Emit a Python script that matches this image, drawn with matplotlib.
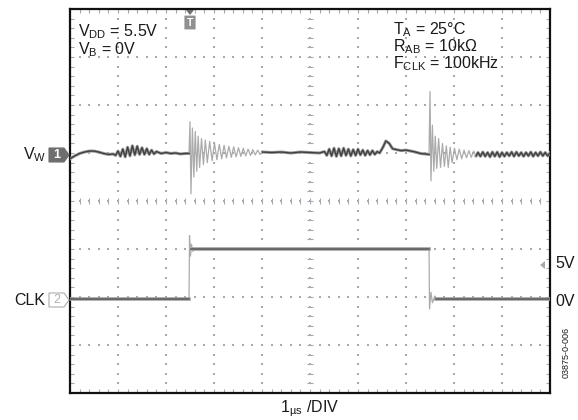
import matplotlib.pyplot as plt
from matplotlib.patches import Polygon, FancyBboxPatch
import numpy as np

plt.rcParams['font.family'] = ['Liberation Sans', 'DejaVu Sans']
plt.rcParams['mathtext.fontset'] = 'custom'
plt.rcParams['mathtext.rm'] = 'Liberation Sans'

# scope traces, x in divisions (1us/div), y in divisions
vw1_t = [0.0, 0.1, 0.2, 0.3, 0.4, 0.5, 0.6, 0.7, 0.8, 0.9,
         0.95, 1.0, 1.05, 1.1, 1.15, 1.2, 1.25, 1.3, 1.35, 1.4, 1.45, 1.5, 1.55, 1.6, 1.65, 1.7, 1.75, 1.8,
         1.9, 2.0, 2.1, 2.2, 2.3, 2.4, 2.48]
vw1_v = [0.88, 0.94, 0.99, 1.02, 1.04, 1.04, 1.02, 0.99, 0.97, 0.98,
         0.95, 1.04, 0.93, 1.08, 0.92, 1.12, 0.94, 1.15, 0.96, 1.14, 0.97, 1.11, 0.97, 1.09, 0.97, 1.06, 0.98, 1.03,
         0.99, 1.01, 0.99, 1.00, 0.98, 0.99, 0.99]

ring1_t = [2.48, 2.50, 2.52, 2.55, 2.58, 2.61, 2.64, 2.67, 2.70, 2.74, 2.78, 2.82, 2.86, 2.91, 2.96,
           3.01, 3.06, 3.11, 3.16, 3.21, 3.26, 3.31, 3.36, 3.41, 3.46, 3.51, 3.56, 3.61, 3.66, 3.71,
           3.76, 3.81, 3.86, 3.91, 3.96, 4.01]
ring1_v = [0.99, 1.65, 0.15, 1.52, 0.50, 1.45, 0.62, 1.35, 0.70, 1.30, 0.76, 1.27, 0.80, 1.24, 0.84,
           1.21, 0.86, 1.18, 0.88, 1.16, 0.90, 1.14, 0.91, 1.13, 0.92, 1.11, 0.93, 1.10, 0.94, 1.08,
           0.95, 1.07, 0.96, 1.06, 0.97, 1.02]

vw2_t = [4.01, 4.2, 4.4, 4.6, 4.8, 5.0, 5.2,
         5.3, 5.35, 5.4, 5.45, 5.5, 5.55, 5.6, 5.65, 5.7, 5.75, 5.8, 5.85, 5.9, 5.95, 6.0, 6.05,
         6.1, 6.15, 6.2, 6.25, 6.3, 6.35, 6.4, 6.45,
         6.52, 6.58, 6.65, 6.72, 6.8, 6.9, 7.0, 7.1, 7.2, 7.3, 7.4, 7.48]
vw2_v = [1.02, 1.01, 1.02, 1.00, 1.02, 1.01, 1.00,
         1.03, 0.95, 1.08, 0.94, 1.10, 0.93, 1.09, 0.94, 1.10, 0.95, 1.08, 0.94, 1.07, 0.95, 1.08, 0.96,
         1.06, 0.95, 1.05, 0.96, 1.05, 0.97, 1.03, 1.00,
         1.12, 1.25, 1.20, 1.09, 1.07, 1.05, 1.06, 1.04, 1.02, 0.99, 0.98, 0.97]

ring2_t = [7.48, 7.50, 7.52, 7.55, 7.58, 7.61, 7.64, 7.68, 7.72, 7.76, 7.80, 7.84, 7.88,
           7.92, 7.96, 8.01, 8.06, 8.11, 8.16, 8.21, 8.26, 8.31, 8.36, 8.41, 8.46]
ring2_v = [0.97, 2.28, 0.42, 1.58, 0.62, 1.35, 0.68, 1.30, 0.70, 1.20, 0.72, 1.15, 0.70,
           1.12, 0.80, 1.10, 0.86, 1.08, 0.88, 1.06, 0.90, 1.05, 0.91, 1.04, 0.93]

vw3_t = [8.46, 8.5, 8.55, 8.6, 8.65, 8.7, 8.75, 8.8, 8.85, 8.9, 8.95, 9.0, 9.05, 9.1, 9.15, 9.2,
         9.25, 9.3, 9.35, 9.4, 9.45, 9.5, 9.55, 9.6, 9.65, 9.7, 9.75, 9.8, 9.85, 9.9, 9.95, 10.0]
vw3_v = [0.94, 1.01, 0.93, 1.02, 0.93, 1.01, 0.92, 1.02, 0.93, 1.02, 0.92, 1.01, 0.93, 1.01, 0.94, 1.02,
         0.93, 1.02, 0.94, 1.01, 0.93, 1.01, 0.94, 1.02, 0.93, 1.01, 0.94, 1.02, 0.94, 1.01, 0.94, 1.00]

clk1_t = [0.0, 2.48]
clk1_v = [-2.04, -2.04]
clk_rise_t = [2.48, 2.49, 2.51, 2.53, 2.56, 2.60]
clk_rise_v = [-2.04, -0.72, -1.15, -0.90, -1.05, -1.00]
clk2_t = [2.52, 7.48]
clk2_v = [-1.0, -1.0]
clk_fall_t = [7.48, 7.49, 7.52, 7.55, 7.60, 7.65]
clk_fall_v = [-1.0, -2.25, -1.90, -2.12, -1.98, -2.05]
clk3_t = [7.62, 10.0]
clk3_v = [-2.05, -2.05]

W, H = 578, 420
fig = plt.figure(figsize=(W / 100, H / 100), dpi=100)
ax = fig.add_axes([70 / W, (H - 393) / H, 480 / W, 384 / H])
ax.set_xlim(0, 10)
ax.set_ylim(-4, 4)

gc = '#a4aab0'
# dotted graticule
for k in range(1, 10):
    yy = np.arange(-4, 4.01, 0.2)
    ax.scatter(np.full(len(yy), k), yy, s=1.2, marker='s', color=gc, lw=0, zorder=1)
for m in range(-3, 4):
    xx = np.arange(0, 10.01, 0.2)
    ax.scatter(xx, np.full(len(xx), m), s=1.2, marker='s', color=gc, lw=0, zorder=1)
# centre crosshair ticks
xx = np.arange(0.2, 10, 0.2)
ax.plot(xx, np.zeros(len(xx)), ls='none', marker='|', ms=4.5, mew=0.8, color=gc, zorder=1)
yy = np.arange(-3.8, 4, 0.2)
ax.plot(np.full(len(yy), 5), yy, ls='none', marker='_', ms=4.5, mew=0.8, color=gc, zorder=1)

ax.xaxis.set_major_locator(plt.MultipleLocator(1))
ax.xaxis.set_minor_locator(plt.MultipleLocator(0.2))
ax.yaxis.set_major_locator(plt.MultipleLocator(1))
ax.yaxis.set_minor_locator(plt.MultipleLocator(0.2))
ax.tick_params(which='both', direction='in', top=True, right=True, color=gc,
               labelbottom=False, labelleft=False, length=3, width=0.8)
for s in ax.spines.values():
    s.set_linewidth(1.6)
    s.set_color('#111111')

# traces
ring_c = '#ababab'
for t, v in [(vw1_t, vw1_v), (vw2_t, vw2_v), (vw3_t, vw3_v)]:
    ax.plot(t, v, color='#9a9a9a', lw=2.2, zorder=3)
    ax.plot(t, v, color='#404040', lw=1.0, zorder=4)
for t, v in [(ring1_t, ring1_v), (ring2_t, ring2_v)]:
    ax.plot(t, v, color=ring_c, lw=0.9, zorder=3)
for t, v in [(clk1_t, clk1_v), (clk2_t, clk2_v), (clk3_t, clk3_v)]:
    ax.plot(t, v, color='#a0a0a0', lw=2.6, zorder=3)
    ax.plot(t, v, color='#5a5a5a', lw=1.1, zorder=4)
for t, v in [(clk_rise_t, clk_rise_v), (clk_fall_t, clk_fall_v)]:
    ax.plot(t, v, color=ring_c, lw=0.9, zorder=3)


def fx(px):
    return px / W


def fy(py):
    return 1 - py / H


tc = '#1a1a1a'
fs = 11.5
fig.text(fx(78), fy(36), r'$\mathregular{V_{DD}}$ = 5.5V', fontsize=fs, color=tc, va='baseline')
fig.text(fx(78), fy(54), r'$\mathregular{V_{B}}$ = 0V', fontsize=fs, color=tc, va='baseline')
fig.text(fx(393), fy(34), r'$\mathregular{T_{A}}$ = 25°C', fontsize=fs, color=tc, va='baseline')
fig.text(fx(393), fy(51), r'$\mathregular{R_{AB}}$ = 10kΩ', fontsize=fs, color=tc, va='baseline')
fig.text(fx(393), fy(68), r'$\mathregular{F_{CLK}}$ = 100kHz', fontsize=fs, color=tc, va='baseline')

fig.text(fx(46), fy(159), r'$\mathregular{V_{W}}$', fontsize=fs, color=tc, va='baseline', ha='right')
fig.text(fx(45), fy(305), 'CLK', fontsize=fs, color=tc, va='baseline', ha='right')
fig.text(fx(555), fy(268), '5V', fontsize=fs, color=tc, va='baseline')
fig.text(fx(555), fy(306), '0V', fontsize=fs, color=tc, va='baseline')
fig.text(fx(310), fy(412), r'1$_{\mathregular{µs}}$ /DIV', fontsize=fs, color=tc, va='baseline', ha='center')
fig.text(fx(566), fy(352), '03875-0-006', fontsize=6.5, color=tc, rotation=90, ha='center', va='center')

# channel tags
tag1 = [(49, 148), (64, 148), (69, 155), (64, 162), (49, 162)]
fig.patches.append(Polygon([(fx(a), fy(b)) for a, b in tag1], closed=True,
                           transform=fig.transFigure, facecolor='#6e6e6e', edgecolor='#6e6e6e', lw=0.8))
fig.text(fx(57), fy(155), '1', fontsize=9, color='white', ha='center', va='center', weight='bold')
tag2 = [(49, 293), (64, 293), (69, 300), (64, 307), (49, 307)]
fig.patches.append(Polygon([(fx(a), fy(b)) for a, b in tag2], closed=True,
                           transform=fig.transFigure, facecolor='white', edgecolor='#b5b5b5', lw=0.9))
fig.text(fx(57), fy(300), '2', fontsize=9, color='#b0b0b0', ha='center', va='center')

# trigger marker
trig = [(186, 10), (194, 10), (190, 15)]
fig.patches.append(Polygon([(fx(a), fy(b)) for a, b in trig], closed=True,
                           transform=fig.transFigure, facecolor='#6e6e6e', edgecolor='none'))
fig.patches.append(FancyBboxPatch((fx(185), fy(29)), fx(10), 13 / H, boxstyle='round,pad=0.001',
                                  transform=fig.transFigure, facecolor='#909090', edgecolor='none'))
fig.text(fx(190), fy(22.5), 'T', fontsize=7.5, color='white', ha='center', va='center', weight='bold')

# 5V marker
m5 = [(545, 261), (545, 269), (540, 265)]
fig.patches.append(Polygon([(fx(a), fy(b)) for a, b in m5], closed=True,
                           transform=fig.transFigure, facecolor='#a8a8a8', edgecolor='none'))

fig.savefig('out.png', dpi=100)
